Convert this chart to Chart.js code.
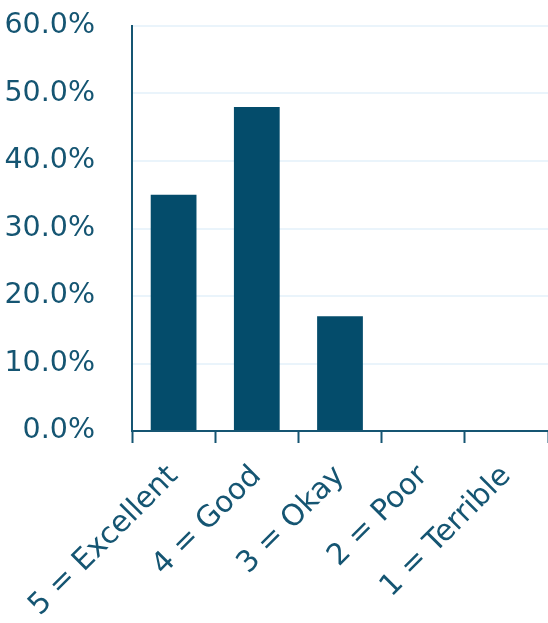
<!DOCTYPE html>
<html>
<head>
<meta charset="utf-8">
<style>
  html, body { margin: 0; padding: 0; background: #ffffff; }
  #wrap { width: 548px; height: 623px; }
</style>
<script src="https://cdn.jsdelivr.net/npm/chart.js@4/dist/chart.umd.min.js"></script>
</head>
<body>
<div id="wrap"><canvas id="chart" width="548" height="623"></canvas></div>
<script>
// Survey rating distribution
const categories = ['5 = Excellent', '4 = Good', '3 = Okay', '2 = Poor', '1 = Terrible'];
const shares = [35, 48, 17, 0, 0];          // percent of responses
const yTicks = [0, 10, 20, 30, 40, 50, 60];  // percent

const ink = '#155572';
const barFill = '#044c6b';
const gridTint = '#eaf4fb';
const fontFamily = '"DejaVu Sans", sans-serif';

new Chart(document.getElementById('chart'), {
  type: 'bar',
  data: {
    labels: categories,
    datasets: [{
      data: shares,
      backgroundColor: barFill,
      borderWidth: 0,
      barPercentage: 0.55,
      categoryPercentage: 1.0
    }]
  },
  options: {
    responsive: false,
    animation: false,
    layout: { padding: 0 },
    plugins: { legend: { display: false }, tooltip: { enabled: false } },
    scales: {
      x: {
        afterFit: (axis) => { axis.height = 192; },
        grid: {
          display: true,
          drawOnChartArea: false,
          drawTicks: true,
          tickLength: 12,
          tickWidth: 2,
          color: ink,
          offset: true
        },
        border: { display: true, color: ink, width: 2 },
        ticks: {
          color: ink,
          font: { family: fontFamily, size: 29.5 },
          maxRotation: 45,
          minRotation: 45,
          padding: 16,
          autoSkip: false
        }
      },
      y: {
        min: 0,
        max: 60,
        afterFit: (axis) => {
          axis.width = 132;
          axis.paddingTop = 26;
          axis.paddingBottom = 0;
        },
        afterBuildTicks: (axis) => { axis.ticks = yTicks.map(v => ({ value: v })); },
        grid: {
          display: true,
          drawTicks: false,
          color: (ctx) => ctx.tick && ctx.tick.value === 0 ? 'rgba(0,0,0,0)' : gridTint,
          lineWidth: 2
        },
        border: { display: true, color: ink, width: 2 },
        ticks: {
          color: ink,
          font: { family: fontFamily, size: 28.5 },
          padding: 37,
          callback: (v) => v.toFixed(1) + '%'
        }
      }
    }
  }
});
</script>
</body>
</html>
